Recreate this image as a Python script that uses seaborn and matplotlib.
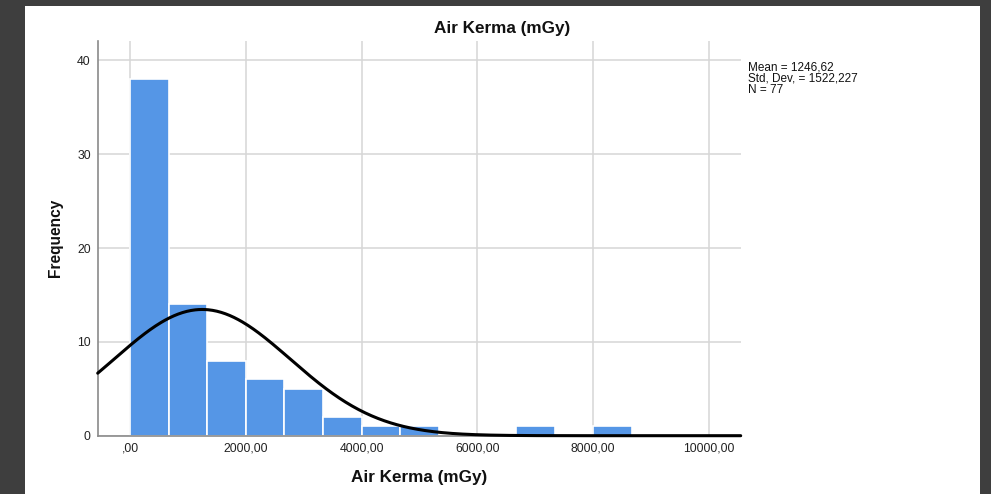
import numpy as np
import pandas as pd
import matplotlib
matplotlib.use("Agg")
import matplotlib.pyplot as plt
from matplotlib.patches import Rectangle
import seaborn as sns

# ---- data ----
bin_width = 2000 / 3
bin_counts = [38, 14, 8, 6, 5, 2, 1, 1, 0, 0, 1, 0, 1]
mean_val = 1246.62
std_val = 1522.227
n_val = 77
x_ticks = [0, 2000, 4000, 6000, 8000, 10000]
x_tick_labels = [",00", "2000,00", "4000,00", "6000,00", "8000,00", "10000,00"]
y_ticks = [0, 10, 20, 30, 40]
title_text = "Air Kerma (mGy)"
xlabel_text = "Air Kerma (mGy)"
ylabel_text = "Frequency"

sns.set_theme(style="white")
plt.rcParams["font.family"] = ["Liberation Sans", "DejaVu Sans"]

W, H = 991, 494
fig = plt.figure(figsize=(W / 100, H / 100), dpi=100)
fig.patch.set_facecolor("#3e3e3e")
fig.patches.append(Rectangle((25 / W, 0), (980 - 25) / W, (494 - 6) / H,
                             transform=fig.transFigure, facecolor="white",
                             edgecolor="none", zorder=-5))

left, right, top, bottom = 97.7, 740.7, 40.7, 435.7
ax = fig.add_axes([left / W, 1 - bottom / H, (right - left) / W, (bottom - top) / H])
ax.set_facecolor("white")
ax.set_zorder(2)

edges = [float(i * bin_width) for i in range(len(bin_counts) + 1)]
centers = [(edges[i] + edges[i + 1]) / 2 for i in range(len(bin_counts))]
df = pd.DataFrame({"x": centers, "count": bin_counts})
sns.histplot(data=df, x="x", weights="count", bins=edges, ax=ax,
             color="#5596E6", alpha=1, edgecolor="white", linewidth=1.2, zorder=2)

xmin, xmax = -558, 10548
xs = np.linspace(xmin, xmax, 600)
ys = n_val * bin_width * np.exp(-0.5 * ((xs - mean_val) / std_val) ** 2) / (std_val * np.sqrt(2 * np.pi))
sns.lineplot(x=xs, y=ys, ax=ax, color="black", linewidth=2.2, zorder=4, clip_on=False)

ax.set_xlim(xmin, xmax)
ax.set_ylim(0, 42.1)
ax.set_xticks(x_ticks)
ax.set_xticklabels(x_tick_labels)
ax.set_yticks(y_ticks)
ax.tick_params(axis="both", length=0, labelsize=8.8, colors="#222222")
ax.tick_params(axis="x", pad=5)
ax.tick_params(axis="y", pad=5)
ax.grid(True, color="#d6d6d6", linewidth=1.1, zorder=0)
ax.set_axisbelow(True)
for s in ["top", "right"]:
    ax.spines[s].set_visible(False)
for s in ["left", "bottom"]:
    ax.spines[s].set_color("#8a8a8a")
    ax.spines[s].set_linewidth(1.2)

ax.set_xlabel(xlabel_text, fontsize=12.3, fontweight="bold", color="#111111", labelpad=11)
ax.set_ylabel(ylabel_text, fontsize=11.2, fontweight="bold", color="#111111", labelpad=10)

fig.text(502 / W, 1 - 28 / H, title_text, ha="center", va="center",
         fontsize=12.3, fontweight="bold", color="#111111")

stats = [f"Mean = {mean_val:.2f}".replace(".", ","),
         f"Std. Dev. = {std_val:.3f}".replace(".", ","),
         f"N = {n_val}"]
fig.text(748 / W, 1 - 61 / H, "\n".join(stats), ha="left", va="top",
         fontsize=8.5, color="#111111", linespacing=0.93)

fig.savefig("out.png", dpi=100, facecolor=fig.get_facecolor())
